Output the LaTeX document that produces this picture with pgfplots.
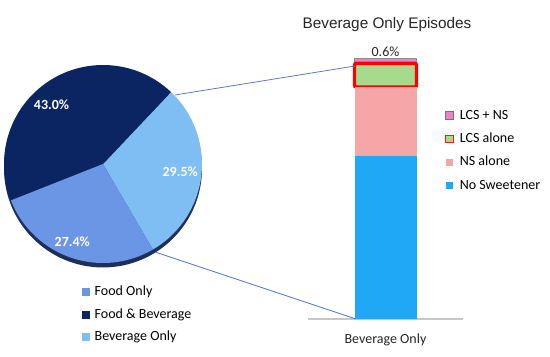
\documentclass[border=0pt]{standalone}
\usepackage{pgfplots}
\pgfplotsset{compat=1.18}
\usepackage{fontspec}
\setmainfont{Carlito}
\newfontfamily\titlefont{Liberation Sans}
\definecolor{foodonly}{RGB}{107,150,230}
\definecolor{foodbev}{RGB}{10,37,97}
\definecolor{bevonly}{RGB}{127,190,242}
\definecolor{pieshadow}{RGB}{30,48,90}
\definecolor{nosweet}{RGB}{30,168,245}
\definecolor{nsalone}{RGB}{246,166,166}
\definecolor{lcsalone}{RGB}{166,219,142}
\definecolor{lcsns}{RGB}{238,130,200}
\definecolor{linkcol}{RGB}{91,123,200}
\pgfplotsset{
  sq legend/.style={legend image code/.code={\fill[#1] (0pt,-2.7pt) rectangle (5.4pt,2.7pt); \path (8.2pt,0pt);}},
  sq legend draw/.style 2 args={legend image code/.code={\filldraw[fill=#1, draw=#2, line width=0.6pt, sharp corners] (0pt,-2.7pt) rectangle (5.4pt,2.7pt); \path (8.2pt,0pt);}},
}
\begin{document}
\begin{tikzpicture}
\path[use as bounding box] (0,0) rectangle (412.5pt,-267.75pt);
% pie angles from the shares (Beverage Only, Food & Beverage, Food Only)
\pgfmathsetmacro\aA{-59.7}
\pgfmathsetmacro\aB{\aA+29.5*360/99.9}
\pgfmathsetmacro\aC{\aB+43.0*360/99.9}
\pgfmathsetmacro\aD{\aC+27.4*360/99.9}
\begin{axis}[
  hide axis, x=74.25pt, y=74.25pt, xmin=-1, xmax=1, ymin=-1, ymax=1,
  anchor=origin, at={(77.25pt,-123pt)}, clip=false,
  legend style={at={(0.392,-0.110)}, anchor=north west, draw=none, fill=none,
    font=\fontsize{10.5}{12}\selectfont, row sep=6.3pt, inner sep=0pt,
    nodes={inner sep=1pt, text height=0.7em, text depth=0.15em}, cells={anchor=west}},
]
\addplot[draw=none, forget plot] coordinates {(-1,-1) (1,1)};
\addlegendimage{sq legend=foodonly}
\addlegendentry{Food Only}
\addlegendimage{sq legend=foodbev}
\addlegendentry{Food \& Beverage}
\addlegendimage{sq legend=bevonly}
\addlegendentry{Beverage Only}
\fill[pieshadow] (axis cs:0,-0.045) circle[radius=74.25pt];
\fill[bevonly] (axis cs:0,0) -- (axis cs:{cos(\aA)},{sin(\aA)}) arc[start angle=\aA, end angle=\aB, radius=74.25pt] -- cycle;
\fill[foodbev] (axis cs:0,0) -- (axis cs:{cos(\aB)},{sin(\aB)}) arc[start angle=\aB, end angle=\aC, radius=74.25pt] -- cycle;
\fill[foodonly] (axis cs:0,0) -- (axis cs:{cos(\aC)},{sin(\aC)}) arc[start angle=\aC, end angle=\aD, radius=74.25pt] -- cycle;
\node[text=white, font=\bfseries\fontsize{10.5}{12}\selectfont] at (axis cs:-0.52,0.60) {43.0\%};
\node[text=white, font=\bfseries\fontsize{10.5}{12}\selectfont] at (axis cs:0.78,-0.08) {29.5\%};
\node[text=white, font=\bfseries\fontsize{10.5}{12}\selectfont] at (axis cs:-0.31,-0.79) {27.4\%};
\end{axis}

\begin{axis}[
  at={(231pt,-239.25pt)}, anchor=south west, scale only axis,
  width=116.25pt, height=195.75pt,
  ybar stacked, bar width=46.5pt,
  xmin=-1, xmax=1, ymin=0, ymax=29.6,
  hide y axis, axis x line*=bottom,
  x axis line style={draw=black!22, line width=0.8pt},
  xtick={0}, xticklabels={Beverage Only}, major tick length=0pt,
  xticklabel style={font=\fontsize{10.5}{12}\selectfont, text=black!85, yshift=-7.5pt},
  title={Beverage Only Episodes},
  title style={font=\titlefont\fontsize{11.5}{13}\selectfont, text=black!85, at={(0.51,1.097)}, anchor=center},
  clip=false,
  reverse legend,
  legend style={at={(0.885,0.808)}, anchor=north west, draw=none, fill=none,
    font=\fontsize{10.5}{12}\selectfont, row sep=7.1pt, inner sep=0pt,
    nodes={inner sep=1pt, text height=0.7em, text depth=0.15em}, cells={anchor=west}},
]
\addplot[sq legend=nosweet, fill=nosweet, draw=none] coordinates {(0,18.5)};
\addlegendentry{No Sweetener}
\addplot[sq legend=nsalone, fill=nsalone, draw=none] coordinates {(0,7.8)};
\addlegendentry{NS alone}
\addplot[sq legend draw={lcsalone}{red!80!orange}, fill=lcsalone, draw=red, line width=2.6pt, rounded corners=1.5pt] coordinates {(0,2.7)};
\addlegendentry{LCS alone}
\addplot[sq legend draw={lcsns}{black!55}, fill=lcsns, draw=black!45, line width=0.5pt] coordinates {(0,0.6)};
\addlegendentry{LCS + NS}
\node[font=\fontsize{10.5}{12}\selectfont, text=black!85] at (axis cs:0,9.25) {18.5\%};
\node[font=\fontsize{10.5}{12}\selectfont, text=black!85] at (axis cs:0,22.4) {7.8\%};
\node[font=\fontsize{10.5}{12}\selectfont, text=black!85] at (axis cs:0,27.65) {2.7\%};
\node[font=\fontsize{10.5}{12}\selectfont, text=black!85, anchor=south, inner sep=0pt] at (axis cs:0,29.75) {0.6\%};
\end{axis}

\draw[linkcol, line width=0.6pt] (131.25pt,-71.25pt) -- (266.25pt,-49.5pt);
\draw[linkcol, line width=0.6pt] (116.25pt,-189pt) -- (267pt,-239.25pt);
\end{tikzpicture}
\end{document}
